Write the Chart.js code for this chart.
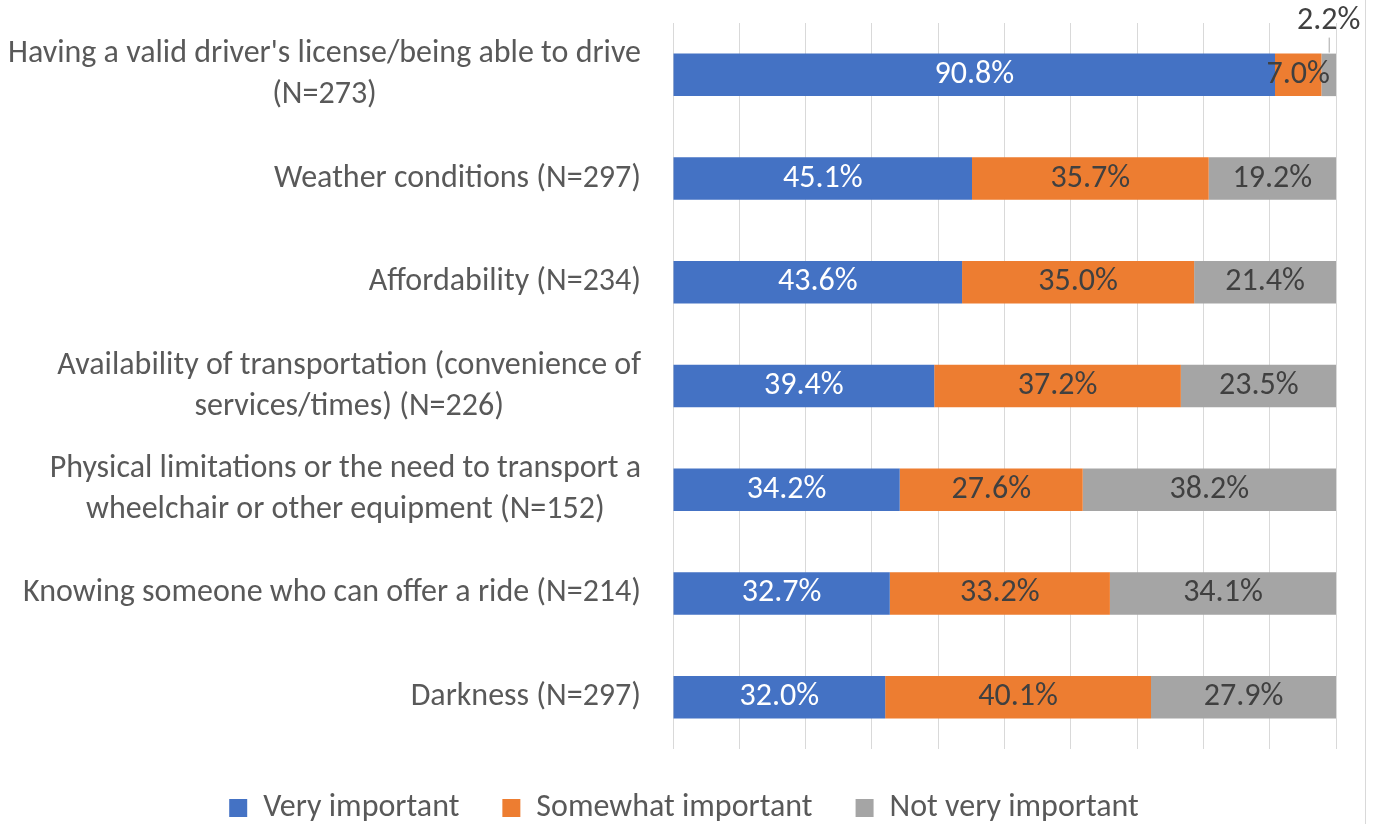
<!DOCTYPE html>
<html>
<head>
<meta charset="utf-8">
<script src="https://cdn.jsdelivr.net/npm/chart.js@4/dist/chart.umd.min.js"></script>
<style>
  html, body { margin: 0; padding: 0; background: #fff; }
  #wrap { position: relative; width: 1375px; height: 824px; }
  #frame { position: absolute; left: 1365px; top: 0; width: 1px; height: 824px; background: #D9D9D9; }
</style>
</head>
<body>
<div id="wrap">
  <canvas id="c" width="1375" height="824"></canvas>
  <div id="frame"></div>
</div>
<script>
const categories = [
  ["Having a valid driver's license/being able to drive", "(N=273)"],
  ["Weather conditions (N=297)"],
  ["Affordability (N=234)"],
  ["Availability of transportation (convenience of", "services/times) (N=226)"],
  ["Physical limitations or the need to transport a", "wheelchair or other equipment (N=152)"],
  ["Knowing someone who can offer a ride (N=214)"],
  ["Darkness (N=297)"]
];
const seriesNames = ["Very important", "Somewhat important", "Not very important"];
const veryImportant = [90.8, 45.1, 43.6, 39.4, 34.2, 32.7, 32.0];
const somewhatImportant = [7.0, 35.7, 35.0, 37.2, 27.6, 33.2, 40.1];
const notVeryImportant = [2.2, 19.2, 21.4, 23.5, 38.2, 34.1, 27.9];
const xTicks = [0, 10, 20, 30, 40, 50, 60, 70, 80, 90, 100];

const FONT = "Carlito, Lato, 'Open Sans', sans-serif";
const colors = ["#4472C4", "#ED7D31", "#A5A5A5"];
const labelColors = ["#FFFFFF", "#404040", "#404040"];

const yLabelPlugin = {
  id: 'yLabels',
  afterDraw(chart) {
    const ctx = chart.ctx;
    const y = chart.scales.y;
    const right = chart.chartArea.left - 32;
    const size = 32, lh = 41;
    ctx.save();
    ctx.font = size + "px " + FONT;
    ctx.fillStyle = "#595959";
    ctx.textBaseline = "middle";
    ctx.textAlign = "center";
    categories.forEach((lines, i) => {
      const cy = y.getPixelForValue(i);
      const w = Math.max(...lines.map(l => ctx.measureText(l).width));
      const cx = right - w / 2;
      const y0 = cy - (lines.length - 1) * lh / 2;
      lines.forEach((l, k) => ctx.fillText(l, cx, y0 + k * lh));
    });
    ctx.restore();
  }
};

const dataLabelPlugin = {
  id: 'dataLabels',
  afterDatasetsDraw(chart) {
    const ctx = chart.ctx;
    ctx.save();
    ctx.font = "32px " + FONT;
    ctx.textAlign = "center";
    ctx.textBaseline = "middle";
    chart.data.datasets.forEach((ds, di) => {
      const meta = chart.getDatasetMeta(di);
      meta.data.forEach((bar, i) => {
        const v = ds.data[i];
        const txt = v.toFixed(1) + "%";
        const x = (bar.x + bar.base) / 2;
        const w = Math.abs(bar.x - bar.base);
        if (w < 20) {
          const top = bar.y - bar.height / 2;
          ctx.fillStyle = "#404040";
          ctx.fillText(txt, x, top - 33);
          ctx.strokeStyle = "#A6A6A6";
          ctx.lineWidth = 1;
          ctx.beginPath();
          ctx.moveTo(x + 0.5, top - 16);
          ctx.lineTo(x + 0.5, top - 1);
          ctx.stroke();
        } else {
          ctx.fillStyle = labelColors[di];
          ctx.fillText(txt, x, bar.y);
        }
      });
    });
    ctx.restore();
  }
};

new Chart(document.getElementById('c'), {
  type: 'bar',
  data: {
    labels: categories,
    datasets: [
      { label: seriesNames[0], data: veryImportant, backgroundColor: colors[0] },
      { label: seriesNames[1], data: somewhatImportant, backgroundColor: colors[1] },
      { label: seriesNames[2], data: notVeryImportant, backgroundColor: colors[2] }
    ]
  },
  options: {
    indexAxis: 'y',
    responsive: false,
    animation: false,
    layout: { padding: { left: 32, right: 39, top: 23, bottom: -10 } },
    datasets: { bar: { barPercentage: 0.41, categoryPercentage: 1.0, borderWidth: 0 } },
    scales: {
      x: {
        stacked: true,
        min: 0, max: 100,
        afterBuildTicks(scale) { scale.ticks = xTicks.map(v => ({ value: v })); },
        ticks: { display: false },
        grid: { color: "#D9D9D9", lineWidth: 1, drawTicks: false },
        border: { display: false }
      },
      y: {
        stacked: true,
        ticks: { display: false },
        grid: { display: false },
        border: { display: false },
        afterFit(scale) { scale.width = 641; }
      }
    },
    plugins: {
      legend: {
        position: 'bottom',
        labels: {
          font: { size: 32, family: FONT },
          color: "#595959",
          boxWidth: 18,
          boxHeight: 18,
          padding: 43
        }
      },
      tooltip: { enabled: false }
    }
  },
  plugins: [yLabelPlugin, dataLabelPlugin]
});
</script>
</body>
</html>
